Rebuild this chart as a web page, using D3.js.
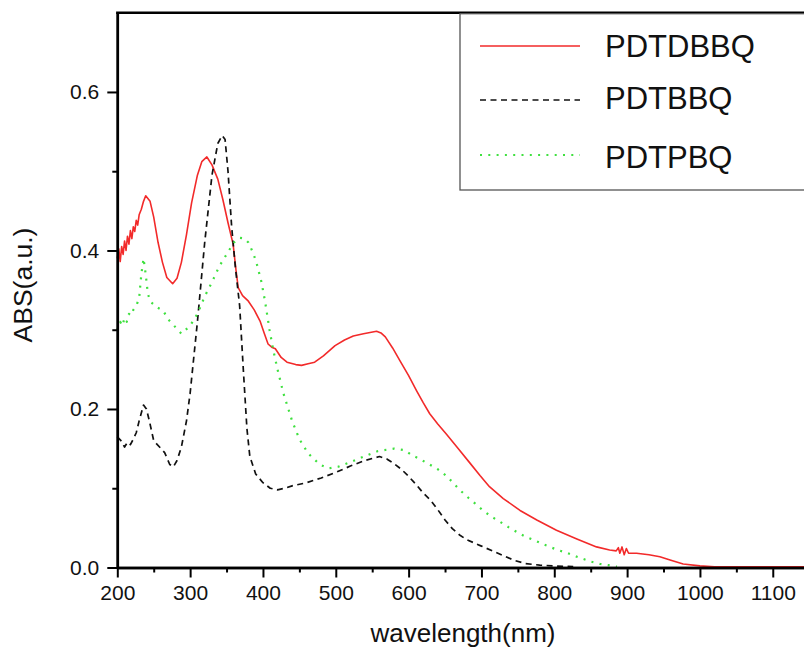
<!DOCTYPE html>
<html>
<head>
<meta charset="utf-8">
<script src="https://cdn.jsdelivr.net/npm/d3@7"></script>
<style>
  body { margin: 0; background: #fff; }
  svg { display: block; font-family: "Liberation Sans", Arial, sans-serif; }
</style>
</head>
<body>
<svg id="chart" width="804" height="650"></svg>
<script>
/*************************Data********************* */
const seriesNames = ["PDTDBBQ", "PDTBBQ", "PDTPBQ"];
const seriesColors = ["#f22a2a", "#111111", "#3fe03f"];

// PDTDBBQ (red, solid)
const redNm = [200, 202, 204, 206, 208, 210, 212, 214, 216, 218, 220, 222, 224, 226, 228, 230, 233, 236, 239, 245, 250, 256, 262, 268, 276, 282, 288, 295, 302, 310, 316, 323, 330, 338, 345, 352, 359, 363, 366, 372, 380, 388, 396, 402, 407, 412, 417, 425, 433, 445, 453, 462, 471, 483, 499, 512, 524, 538, 556, 562, 568, 578, 588, 600, 611, 620, 629, 640, 652, 668, 684, 698, 711, 730, 753, 776, 803, 831, 858, 876, 885, 888, 890, 893, 896, 899, 902, 913, 930, 945, 959, 977, 1000, 1020, 1150];
const redAbs = [0.390, 0.402, 0.386, 0.405, 0.395, 0.412, 0.400, 0.418, 0.408, 0.425, 0.415, 0.430, 0.424, 0.438, 0.432, 0.445, 0.452, 0.462, 0.469, 0.462, 0.442, 0.410, 0.385, 0.366, 0.358, 0.365, 0.385, 0.420, 0.460, 0.495, 0.512, 0.518, 0.508, 0.490, 0.464, 0.435, 0.408, 0.375, 0.353, 0.343, 0.336, 0.325, 0.311, 0.295, 0.282, 0.278, 0.276, 0.265, 0.259, 0.256, 0.255, 0.257, 0.259, 0.267, 0.280, 0.287, 0.292, 0.295, 0.298, 0.296, 0.291, 0.277, 0.261, 0.242, 0.223, 0.208, 0.194, 0.181, 0.168, 0.150, 0.132, 0.116, 0.102, 0.087, 0.072, 0.060, 0.047, 0.036, 0.026, 0.022, 0.021, 0.025, 0.018, 0.026, 0.016, 0.024, 0.018, 0.018, 0.016, 0.0136, 0.0094, 0.0044, 0.002, 0.0008, 0.0008];

// PDTBBQ (black, dashed)
const blackNm = [200, 205, 210, 214, 218, 222, 226, 230, 236, 240, 244, 250, 258, 265, 272, 277, 282, 288, 295, 300, 310, 320, 330, 338, 344, 348, 352, 357, 362, 368, 373, 378, 382, 390, 400, 410, 420, 430, 440, 460, 480, 500, 520, 540, 560, 570, 580, 590, 600, 610, 620, 630, 640, 650, 660, 670, 680, 690, 700, 715, 730, 745, 760, 780, 800, 826];
const blackAbs = [0.165, 0.160, 0.152, 0.158, 0.155, 0.162, 0.170, 0.185, 0.205, 0.200, 0.185, 0.160, 0.152, 0.145, 0.130, 0.127, 0.135, 0.152, 0.185, 0.220, 0.310, 0.410, 0.495, 0.535, 0.545, 0.540, 0.500, 0.430, 0.380, 0.330, 0.250, 0.175, 0.140, 0.118, 0.107, 0.100, 0.098, 0.100, 0.103, 0.107, 0.113, 0.120, 0.128, 0.135, 0.140, 0.137, 0.131, 0.124, 0.115, 0.105, 0.094, 0.085, 0.073, 0.060, 0.049, 0.041, 0.035, 0.031, 0.027, 0.021, 0.015, 0.009, 0.005, 0.003, 0.002, 0.001];

// PDTPBQ (green, dotted)
const greenNm = [200, 204, 207, 210, 213, 216, 219, 222, 226, 230, 233, 236, 239, 242, 246, 255, 263, 270, 280, 288, 294, 300, 310, 320, 330, 340, 350, 360, 368, 375, 380, 386, 391, 398, 403, 409, 414, 420, 428, 440, 450, 462, 478, 490, 503, 520, 536, 558, 580, 595, 604, 615, 627, 640, 650, 660, 670, 682, 691, 702, 714, 725, 737, 748, 760, 771, 783, 794, 805, 817, 828, 840, 851, 863, 874, 886];
const greenAbs = [0.300, 0.310, 0.305, 0.315, 0.310, 0.320, 0.318, 0.325, 0.330, 0.340, 0.370, 0.390, 0.370, 0.345, 0.335, 0.328, 0.324, 0.313, 0.303, 0.295, 0.300, 0.305, 0.320, 0.342, 0.360, 0.380, 0.395, 0.410, 0.416, 0.415, 0.410, 0.398, 0.385, 0.360, 0.335, 0.300, 0.275, 0.250, 0.220, 0.185, 0.162, 0.144, 0.130, 0.125, 0.127, 0.133, 0.139, 0.147, 0.150, 0.148, 0.142, 0.137, 0.131, 0.124, 0.117, 0.108, 0.098, 0.088, 0.081, 0.072, 0.064, 0.058, 0.051, 0.045, 0.039, 0.035, 0.030, 0.026, 0.022, 0.0186, 0.0145, 0.0107, 0.0073, 0.0044, 0.003, 0.001];

const xMajor = [200, 300, 400, 500, 600, 700, 800, 900, 1000, 1100];
const xMinor = [250, 350, 450, 550, 650, 750, 850, 950, 1050, 1150];
const yMajor = [0.0, 0.2, 0.4, 0.6];
const yMinor = [0.1, 0.3, 0.5];

/*************************Scales********************* */
const plotLeft = 117.3;
const plotTop = 12.7;
const plotBottom = 567.5;
const svg = d3.select("svg#chart");

const scaleX = d3.scaleLinear().domain([200, 1150]).range([plotLeft, plotLeft + 950 * 0.7283]);
const scaleY = d3.scaleLinear().domain([0, 0.7]).range([plotBottom, plotTop]);

/*************************Curves********************* */
const series = [
  { nm: redNm, abs: redAbs, dash: null, width: 1.6 },
  { nm: blackNm, abs: blackAbs, dash: "6,4.5", width: 1.7 },
  { nm: greenNm, abs: greenAbs, dash: "2,6.3", width: 2.2 },
];
const line = d3.line().x((d) => scaleX(d[0])).y((d) => scaleY(d[1]));

svg.append("g")
  .attr("class", "curves")
  .selectAll("path")
  .data(series)
  .join("path")
  .attr("d", (s) => line(s.nm.map((n, i) => [n, s.abs[i]])))
  .attr("fill", "none")
  .attr("stroke", (_, i) => seriesColors[i])
  .attr("stroke-width", (s) => s.width)
  .attr("stroke-dasharray", (s) => s.dash)
  .attr("stroke-linejoin", "round");

/*************************Axes********************* */
const xAxis = d3.axisBottom(scaleX).tickValues(xMajor).tickSize(10).tickPadding(8).tickSizeOuter(0).tickFormat(d3.format("d"));
const xAxisMinor = d3.axisBottom(scaleX).tickValues(xMinor).tickSize(5).tickSizeOuter(0).tickFormat("");
const yAxis = d3.axisLeft(scaleY).tickValues(yMajor).tickSize(10).tickPadding(8).tickSizeOuter(0).tickFormat(d3.format(".1f"));
const yAxisMinor = d3.axisLeft(scaleY).tickValues(yMinor).tickSize(5).tickSizeOuter(0).tickFormat("");

const axes = svg.append("g").attr("class", "axes");
axes.append("g").attr("transform", `translate(0,${plotBottom})`).call(xAxis);
axes.append("g").attr("transform", `translate(0,${plotBottom})`).call(xAxisMinor);
axes.append("g").attr("transform", `translate(${plotLeft},0)`).call(yAxis);
axes.append("g").attr("transform", `translate(${plotLeft},0)`).call(yAxisMinor);

//styling domains n ticks
axes.selectAll(".domain").attr("stroke", "#000").attr("stroke-width", 2.5);
axes.selectAll(".tick line").attr("stroke", "#000").attr("stroke-width", 2);
axes.selectAll(".tick text").attr("fill", "#111").style("font-size", "21px").style("font-family", "Liberation Sans, Arial, sans-serif");

// top frame line
svg.append("line")
  .attr("x1", plotLeft - 1.2).attr("x2", 804)
  .attr("y1", plotTop).attr("y2", plotTop)
  .attr("stroke", "#000").attr("stroke-width", 2.5);

/*************************Axis titles********************* */
svg.append("text")
  .text("wavelength(nm)")
  .attr("x", 463).attr("y", 642)
  .attr("text-anchor", "middle")
  .style("font-size", "26px").attr("fill", "#111");
svg.append("text")
  .text("ABS(a.u.)")
  .attr("transform", "translate(32,285) rotate(-90)")
  .attr("text-anchor", "middle")
  .style("font-size", "26.5px").attr("fill", "#111");

/*************************Legend********************* */
const legend = svg.append("g").attr("class", "legend");
legend.append("rect")
  .attr("x", 460).attr("y", plotTop + 1)
  .attr("width", 360).attr("height", 190 - plotTop - 1)
  .attr("fill", "#fff").attr("stroke", "#555").attr("stroke-width", 1.3);

const legendLineY = [46, 100, 155];
const legendTextY = [57, 109, 168];
legend.selectAll("g.item")
  .data(series)
  .join("g")
  .attr("class", "item")
  .each(function (s, i) {
    d3.select(this).append("line")
      .attr("x1", 480).attr("x2", 580)
      .attr("y1", legendLineY[i]).attr("y2", legendLineY[i])
      .attr("stroke", seriesColors[i])
      .attr("stroke-width", s.width)
      .attr("stroke-dasharray", s.dash);
    d3.select(this).append("text")
      .text(seriesNames[i])
      .attr("x", 605).attr("y", legendTextY[i])
      .style("font-size", "31px").attr("fill", "#111");
  });
</script>
</body>
</html>
